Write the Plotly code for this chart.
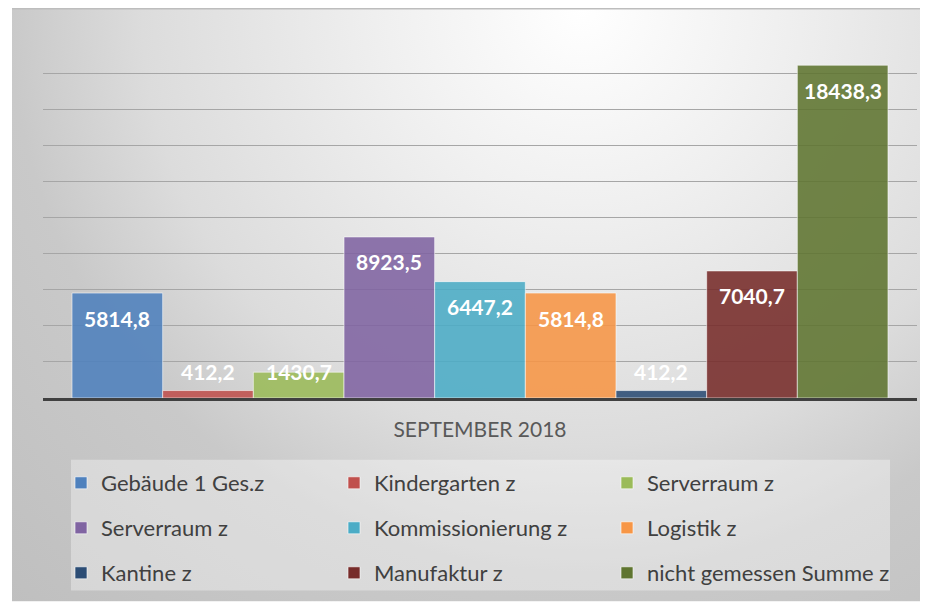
import base64
import plotly.graph_objects as go

# ---------------- data ----------------
category = "SEPTEMBER 2018"
series_names = [
    "Gebäude 1 Ges.z", "Kindergarten z", "Serverraum z",
    "Serverraum z", "Kommissionierung z", "Logistik z",
    "Kantine z", "Manufaktur z", "nicht gemessen Summe z",
]
values = [5814.8, 412.2, 1430.7, 8923.5, 6447.2, 5814.8, 412.2, 7040.7, 18438.3]
colors = ["#4F81BD", "#C0504D", "#9BBB59", "#8064A2", "#4BACC6",
          "#F79646", "#2C4D75", "#772C2A", "#5F7530"]
y_max = 20000
y_step = 2000

# ---------------- geometry ----------------
OFF = 8                      # default page body margin
W, H = 928 - OFF, 603 - OFF  # figure size
PLOT_L, PLOT_R, PLOT_T, PLOT_B = 43, 917, 37, 399   # plot area in page pixels
ML, MR = PLOT_L - OFF, W - (PLOT_R - OFF)
MT, MB = PLOT_T - OFF, H - (PLOT_B - OFF)
PW, PH = W - ML - MR, H - MT - MB
FONT = "Lato"

def px_x(p):  # page pixel -> paper x
    return (p - PLOT_L) / PW

def px_y(p):  # page pixel -> paper y
    return (PLOT_B - p) / PH

legend_keys = ["legend"] + [f"legend{k}" for k in range(2, 10)]

fig = go.Figure()
for i, (name, v, c) in enumerate(zip(series_names, values, colors)):
    fig.add_trace(go.Bar(
        x=[i], y=[v], width=1, name=name, showlegend=True,
        marker=dict(color=c, opacity=0.88,
                    line=dict(color="rgba(255,255,255,0.6)", width=1)),
        legend=legend_keys[i],
        hovertemplate="%{y}<extra>" + name + "</extra>",
    ))

# data labels (white, bold, inside top; clamped near base for short bars)
px_per_unit = PH / y_max
annotations = []
for i, v in enumerate(values):
    txt = f"{v:.1f}".replace(".", ",")
    if v * px_per_unit - 28 >= 26:
        y, ys = v, -25
    else:
        y, ys = 0, 27
    annotations.append(dict(x=i, y=y, xref="x", yref="y", text=f"<b>{txt}</b>",
                            showarrow=False, yshift=ys, yanchor="middle",
                            font=dict(family=FONT, size=21, color="white")))

# background gradient as inline svg
BG_X0, BG_Y0 = 12, 8
bw, bh = 928 - BG_X0, 603 - BG_Y0
svg = (
    f'<svg xmlns="http://www.w3.org/2000/svg" width="{bw}" height="{bh}" '
    f'viewBox="0 0 {bw} {bh}" preserveAspectRatio="none">'
    '<defs><radialGradient id="g" gradientUnits="userSpaceOnUse" cx="570" cy="0" r="830">'
    '<stop offset="0" stop-color="#ffffff"/>'
    '<stop offset="0.25" stop-color="#efefef"/>'
    '<stop offset="0.53" stop-color="#dcdcdc"/>'
    '<stop offset="0.69" stop-color="#c9c9c9"/>'
    '<stop offset="1" stop-color="#bfbfbf"/>'
    '</radialGradient></defs>'
    f'<rect x="0" y="0" width="{bw}" height="{bh}" fill="url(#g)"/></svg>'
)
src = "data:image/svg+xml;base64," + base64.b64encode(svg.encode()).decode()

images = [dict(source=src, xref="paper", yref="paper",
               x=px_x(BG_X0), y=px_y(BG_Y0), sizex=bw / PW, sizey=bh / PH,
               xanchor="left", yanchor="top", sizing="stretch", layer="below")]

shapes = [
    # top border line
    dict(type="line", xref="paper", yref="paper", x0=px_x(BG_X0), x1=px_x(928),
         y0=px_y(8.5), y1=px_y(8.5), line=dict(color="#bdbdbd", width=2), layer="below"),
    # legend background
    dict(type="rect", xref="paper", yref="paper", x0=px_x(71), x1=px_x(890),
         y0=px_y(592), y1=px_y(461), fillcolor="rgba(255,255,255,0.35)",
         line=dict(width=0), layer="below"),
]

legend_common = dict(orientation="h", xanchor="left", yanchor="middle",
                     bgcolor="rgba(0,0,0,0)", borderwidth=0, visible=True,
                     font=dict(family=FONT, size=22, color="#404040"),
                     itemwidth=30)
col_markers = [79, 352, 625]
row_centers = [483, 528, 573]

legends = {}
for i, key in enumerate(legend_keys):
    r, c = divmod(i, 3)
    legends[key] = dict(legend_common, x=px_x(col_markers[c] - 18),
                        y=px_y(row_centers[r]))

fig.update_layout(
    width=W, height=H, showlegend=True,
    margin=dict(l=ML, r=MR, t=MT, b=MB, pad=0),
    paper_bgcolor="white", plot_bgcolor="rgba(0,0,0,0)",
    barmode="overlay", separators=",.",
    font=dict(family=FONT),
    xaxis=dict(range=[-0.82, 8.82], tickvals=[4], ticktext=[category],
               showline=True, linecolor="#404040", linewidth=3,
               showgrid=False, zeroline=False, ticks="",
               ticklabelstandoff=11,
               tickfont=dict(family=FONT, size=21, color="#595959"),
               fixedrange=True),
    yaxis=dict(range=[0, y_max], dtick=y_step, showticklabels=False,
               gridcolor="#a6a6a6", gridwidth=1, zeroline=False,
               showline=False, fixedrange=True),
    annotations=annotations, images=images, shapes=shapes,
    **legends,
)

fig.write_html("out.html")
